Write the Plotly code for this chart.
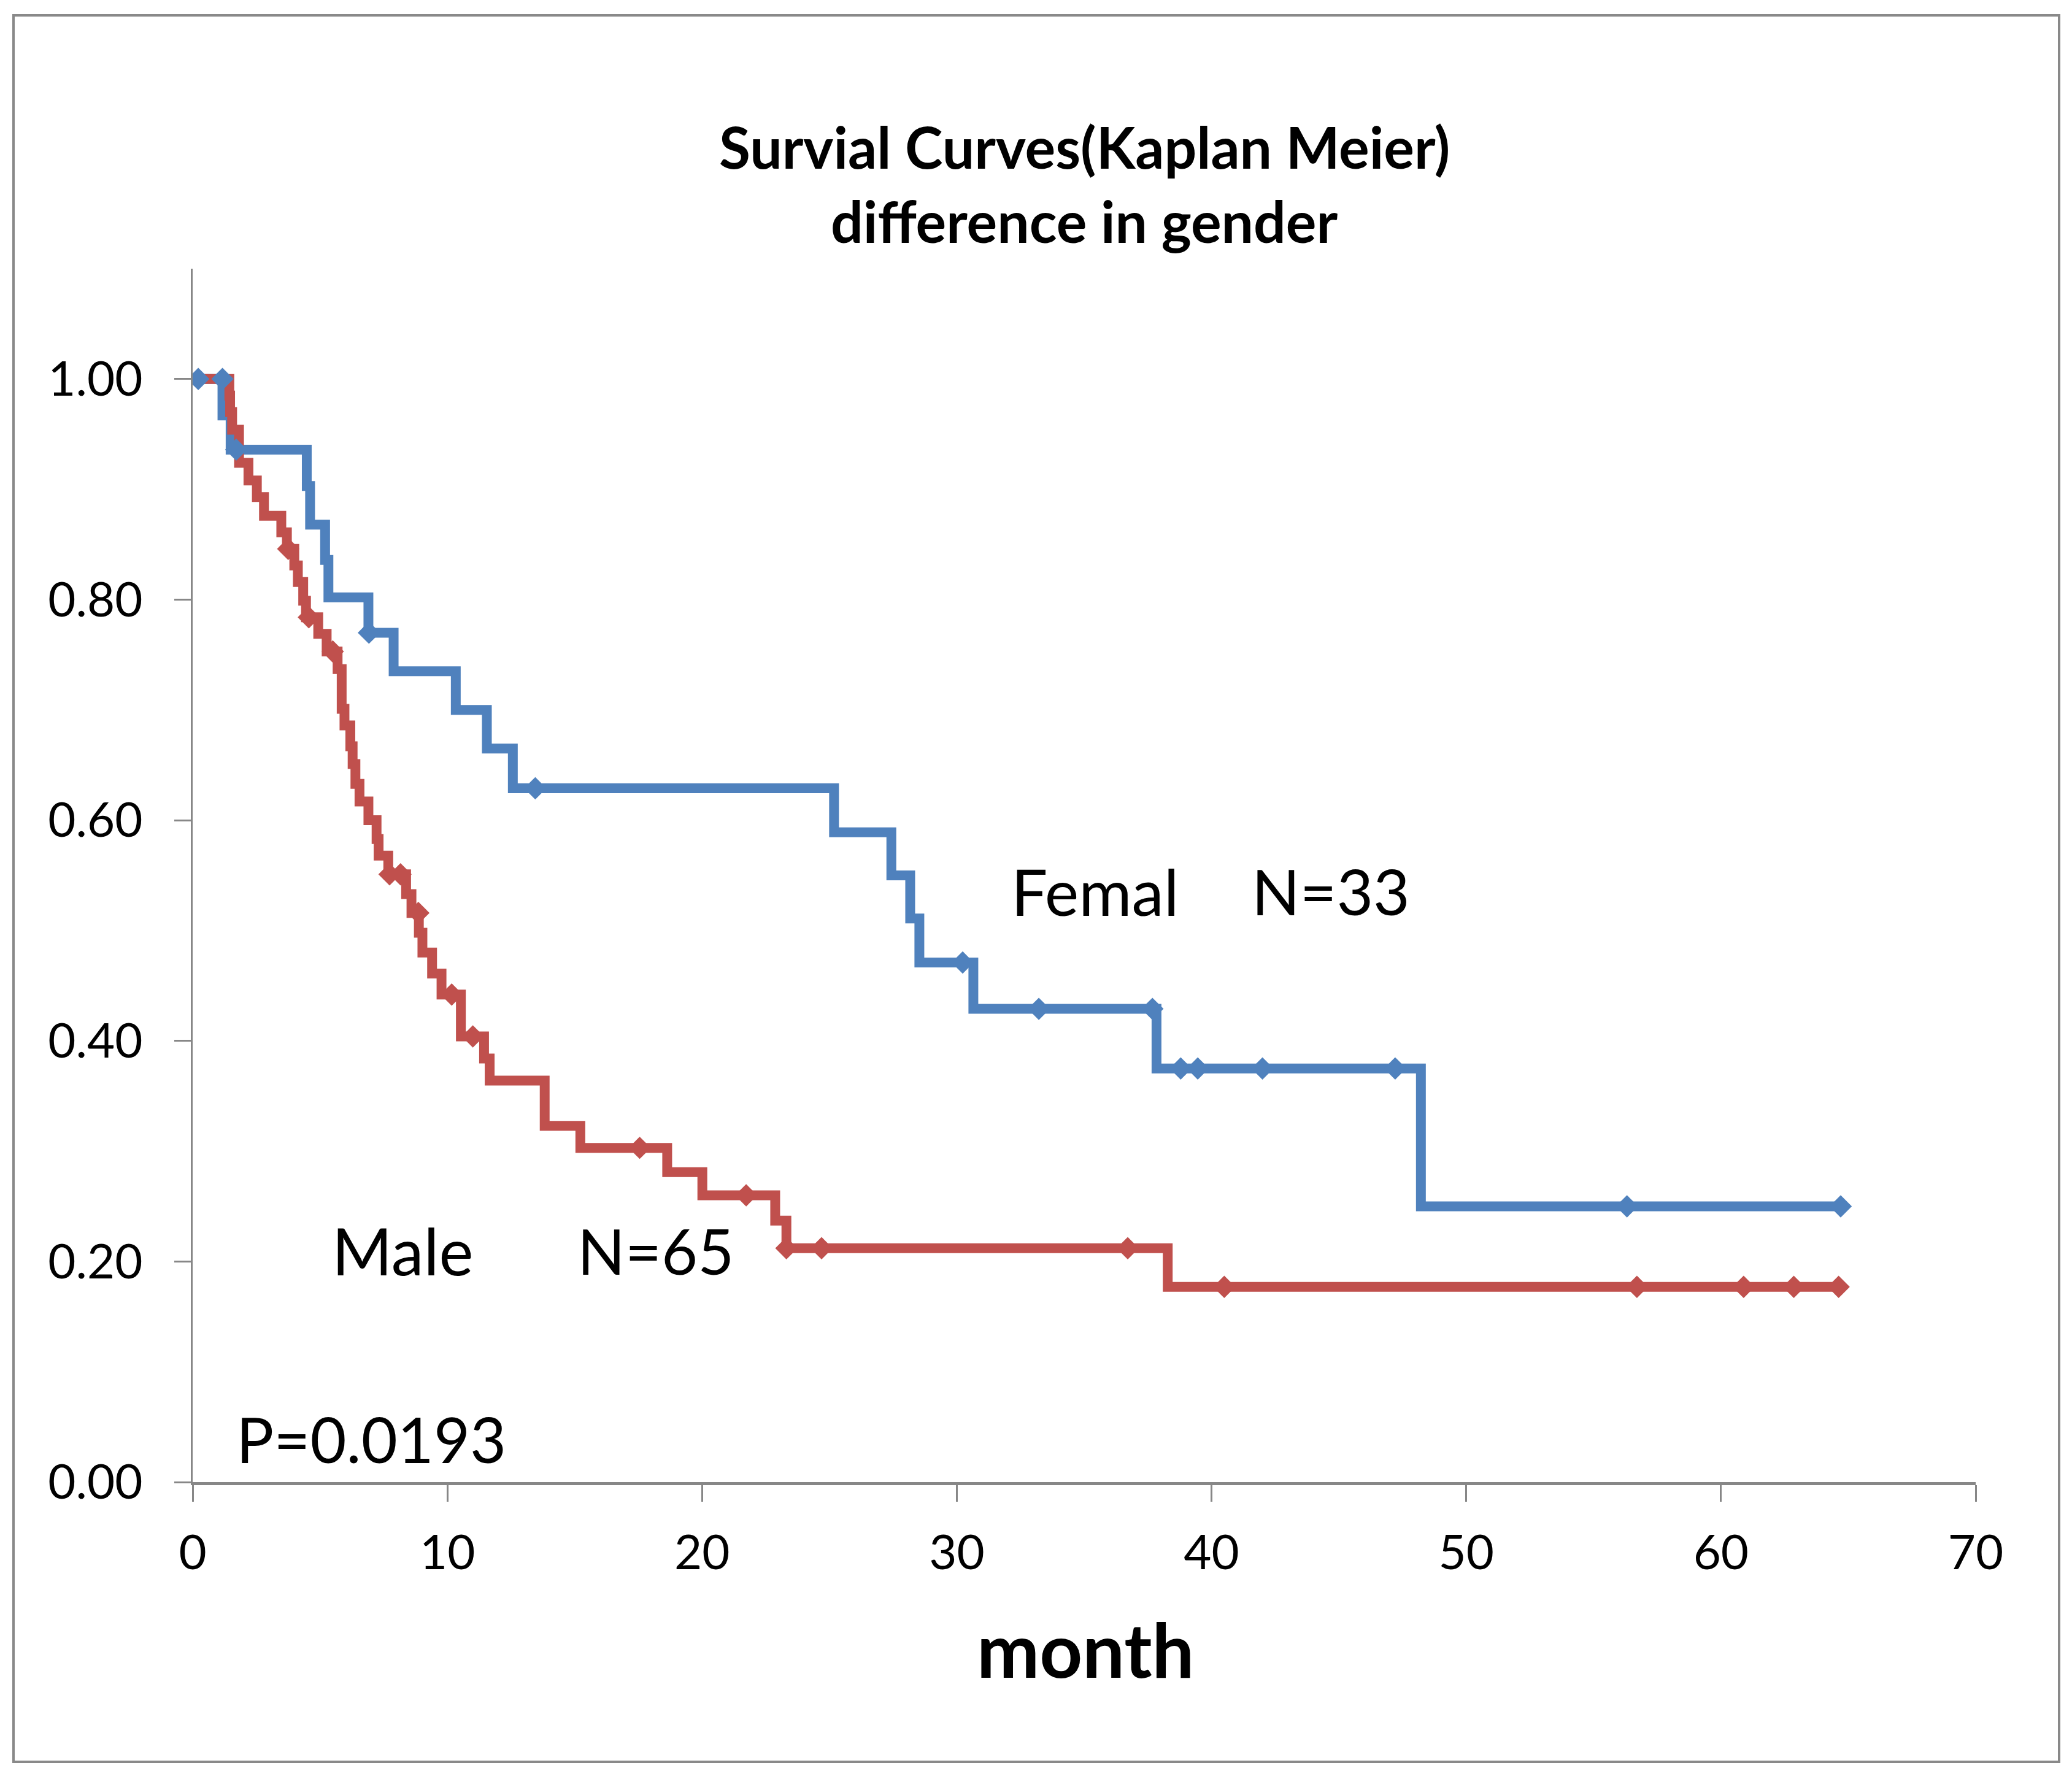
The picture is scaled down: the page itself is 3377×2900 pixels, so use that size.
import plotly.graph_objects as go

# ---- data (months, survival fraction) ----
female_time = [0, 1.17, 1.49, 4.48, 4.61, 5.20, 5.33, 6.90, 7.89, 10.33, 11.55, 12.57,
               25.18, 27.43, 28.17, 28.53, 30.65, 37.84, 48.22, 64.70]
female_surv = [1.000, 0.967, 0.936, 0.903, 0.868, 0.836, 0.802, 0.770, 0.735, 0.700, 0.665, 0.629,
               0.589, 0.550, 0.511, 0.471, 0.429, 0.375, 0.250, 0.250]
female_cens_time = [0.22, 1.17, 1.71, 6.92, 13.45, 30.23, 33.22, 37.68, 38.79, 39.46, 42.00, 47.21, 56.31, 64.70]
female_cens_surv = [1.000, 1.000, 0.936, 0.770, 0.629, 0.471, 0.429, 0.429, 0.375, 0.375, 0.375, 0.375, 0.250, 0.250]

male_time = [0, 1.44, 1.47, 1.55, 1.82, 2.19, 2.52, 2.80, 3.48, 3.70, 3.99, 4.13, 4.34, 4.45,
             4.93, 5.26, 5.69, 5.85, 5.96, 6.19, 6.28, 6.39, 6.55, 6.90, 7.22, 7.30, 7.68,
             8.38, 8.59, 8.88, 9.02, 9.40, 9.77, 10.53, 11.44, 11.66, 13.82, 15.22, 18.63,
             20.01, 22.87, 23.31, 38.28, 64.62]
male_surv = [1.000, 0.985, 0.970, 0.954, 0.924, 0.908, 0.893, 0.876, 0.861, 0.846, 0.831, 0.816, 0.799, 0.784,
             0.769, 0.753, 0.737, 0.701, 0.686, 0.667, 0.651, 0.633, 0.617, 0.600, 0.583, 0.568, 0.551,
             0.533, 0.516, 0.498, 0.480, 0.461, 0.442, 0.404, 0.384, 0.364, 0.323, 0.303, 0.281,
             0.260, 0.237, 0.212, 0.177, 0.177]
male_cens_time = [3.75, 4.56, 5.50, 7.73, 8.16, 8.86, 10.17, 11.00, 17.55, 21.73, 23.31, 24.69,
                  36.71, 40.50, 56.70, 60.89, 62.86, 64.62]
male_cens_surv = [0.846, 0.784, 0.753, 0.551, 0.551, 0.516, 0.442, 0.404, 0.303, 0.260, 0.212, 0.212,
                  0.212, 0.177, 0.177, 0.177, 0.177, 0.177]

x_ticks = [0, 10, 20, 30, 40, 50, 60, 70]
y_ticks = [0.0, 0.2, 0.4, 0.6, 0.8, 1.0]

BLUE = "#4F81BD"
RED = "#C0504D"
GRAY = "#878787"
FONT = "Lato"

fig = go.Figure()
fig.add_trace(go.Scatter(x=female_time, y=female_surv, mode="lines", line_shape="hv",
                         line=dict(color=BLUE, width=16), showlegend=False, name="Female"))
fig.add_trace(go.Scatter(x=male_time, y=male_surv, mode="lines", line_shape="hv",
                         line=dict(color=RED, width=16), showlegend=False, name="Male"))
fig.add_trace(go.Scatter(x=female_cens_time, y=female_cens_surv, mode="markers",
                         marker=dict(symbol="diamond", size=28, color=BLUE, line=dict(width=0)),
                         showlegend=False, name="Female censored"))
fig.add_trace(go.Scatter(x=male_cens_time, y=male_cens_surv, mode="markers",
                         marker=dict(symbol="diamond", size=28, color=RED, line=dict(width=0)),
                         showlegend=False, name="Male censored"))

W, H = 3377, 2900
L, R, T, B = 314, 157, 438, 484

fig.update_layout(
    width=W, height=H,
    margin=dict(l=L, r=R, t=T, b=B, pad=0),
    paper_bgcolor="white", plot_bgcolor="white",
    font=dict(family=FONT, color="black"),
    xaxis=dict(range=[0, 70], tickvals=x_ticks, ticktext=[str(v) for v in x_ticks],
               showgrid=False, zeroline=False, showline=True, linecolor=GRAY, linewidth=5,
               ticks="outside", ticklen=27, tickwidth=3, tickcolor=GRAY,
               tickfont=dict(family=FONT, size=78, color="black"), ticklabelstandoff=16),
    yaxis=dict(range=[0, 1.1], tickvals=y_ticks, ticktext=["%.2f" % v for v in y_ticks],
               showgrid=False, zeroline=False, showline=True, linecolor=GRAY, linewidth=3,
               ticks="outside", ticklen=27, tickwidth=3, tickcolor=GRAY,
               tickfont=dict(family=FONT, size=78, color="black"), ticklabelstandoff=36),
)

annotations = [
    dict(text="<b>Survial Curves(Kaplan Meier)</b>", xref="paper", yref="paper", x=0.5, y=1.1008,
         xanchor="center", yanchor="middle", font=dict(size=93)),
    dict(text="<b>difference in gender</b>", xref="paper", yref="paper", x=0.5, y=1.0392,
         xanchor="center", yanchor="middle", font=dict(size=93)),
    dict(text="<b>month</b>", xref="paper", yref="paper", x=0.5007, y=-0.1377,
         xanchor="center", yanchor="middle", font=dict(size=122)),
    dict(text="Femal", xref="x", yref="y", x=32.08, y=0.536, xanchor="left", yanchor="middle", font=dict(size=105)),
    dict(text="N=33", xref="x", yref="y", x=41.52, y=0.536, xanchor="left", yanchor="middle", font=dict(size=103)),
    dict(text="Male", xref="x", yref="y", x=5.42, y=0.210, xanchor="left", yanchor="middle", font=dict(size=106)),
    dict(text="N=65", xref="x", yref="y", x=15.05, y=0.210, xanchor="left", yanchor="middle", font=dict(size=102)),
    dict(text="P=0.0193", xref="x", yref="y", x=1.66, y=0.0392, xanchor="left", yanchor="middle", font=dict(size=102)),
]
for a in annotations:
    a["showarrow"] = False
    a["font"]["family"] = FONT
    a["font"]["color"] = "black"
fig.update_layout(annotations=annotations)

# outer chart border
pw, ph = W - L - R, H - T - B
fig.add_shape(type="rect", xref="paper", yref="paper",
              x0=(22 - L) / pw, x1=(3356 - L) / pw,
              y0=(H - B - 2872) / ph, y1=(H - B - 25) / ph,
              line=dict(color="#898989", width=4), fillcolor="rgba(0,0,0,0)", layer="below")

fig.write_html("out.html", config={"displayModeBar": False},
               post_script="document.body.style.margin='0';")
